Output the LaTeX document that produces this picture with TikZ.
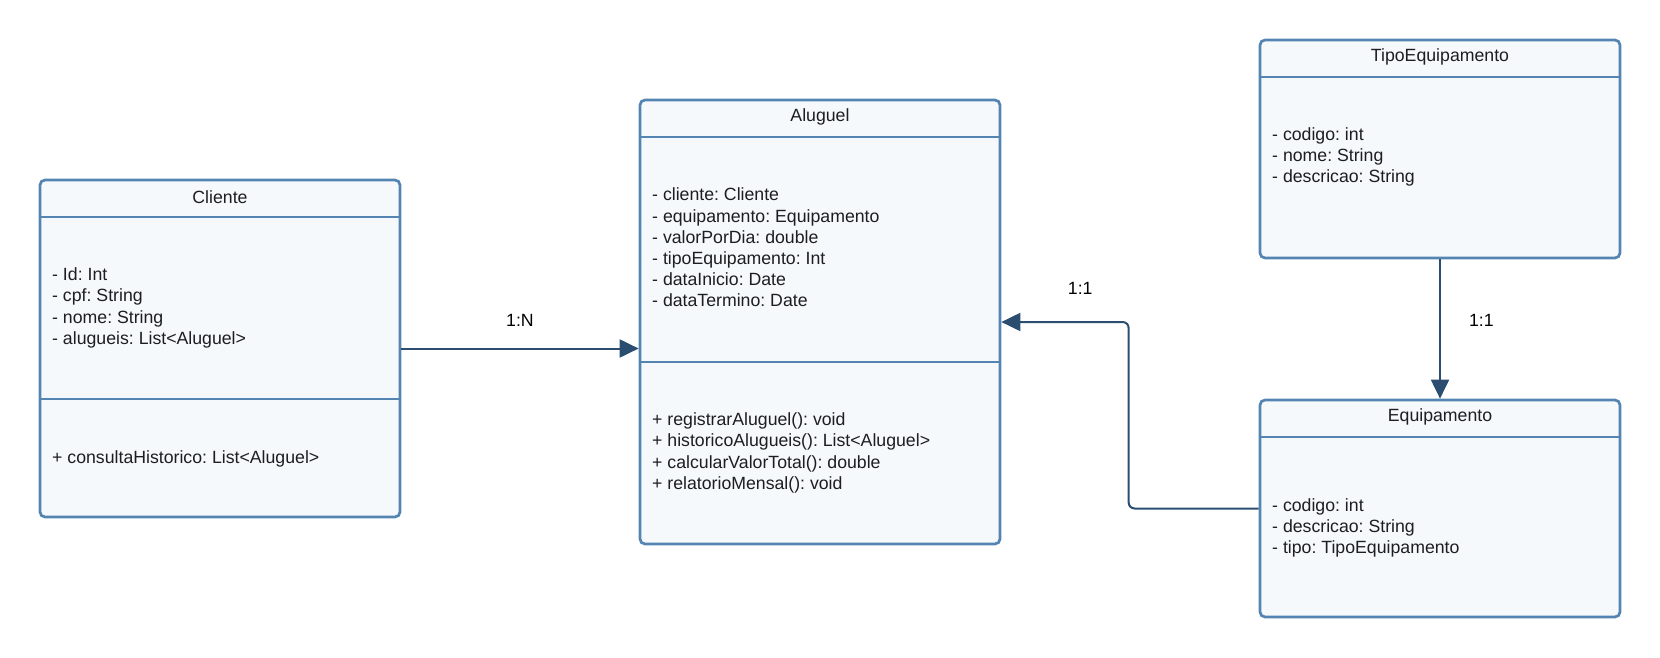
\documentclass[tikz,border=0pt]{standalone}
\usepackage{fontspec}
\setmainfont{Liberation Sans}
\usetikzlibrary{positioning,calc,arrows.meta}
\definecolor{umlline}{RGB}{84,132,178}
\definecolor{umlfill}{RGB}{245,249,252}
\definecolor{umlarrow}{RGB}{42,77,112}
\definecolor{umltext}{RGB}{30,30,30}
\newcommand*{\umltxt}{\fontsize{17.7}{21.2}\selectfont}
\frenchspacing

\begin{document}
\begin{tikzpicture}[x=1pt,y=-1pt,
  classbox/.style={draw=umlline,fill=umlfill,line width=2.7pt,
    rounded corners=5pt,minimum width=360pt,inner sep=0pt},
  classrule/.style={draw=umlline,line width=2.7pt},
  classtitle/.style={font=\umltxt,text=umltext,inner sep=0pt},
  members/.style={font=\umltxt,text=umltext,align=left,anchor=west,inner sep=0pt},
  assoc/.style={draw=umlarrow,line width=2pt,
    -{Triangle[length=19pt,width=18pt]}},
  cardinality/.style={font=\umltxt,text=black,inner sep=0pt}]
\useasboundingbox (0,0) rectangle (1660,658);
% The four classes
\node[classbox,minimum height=337pt] (cliente) at (220,348.5) {};
\node[classbox,minimum height=444pt] (aluguel) at (820,322) {};
\node[classbox,minimum height=218pt] (tipo) at (1440,149) {};
\node[classbox,minimum height=217pt] (equipamento) at (1440,508.5) {};
% Compartment lines
\draw[classrule] (cliente.west |- 0,217) -- (cliente.east |- 0,217);
\draw[classrule] (cliente.west |- 0,399) -- (cliente.east |- 0,399);
\draw[classrule] (aluguel.west |- 0,137) -- (aluguel.east |- 0,137);
\draw[classrule] (aluguel.west |- 0,362) -- (aluguel.east |- 0,362);
\draw[classrule] (tipo.west |- 0,77) -- (tipo.east |- 0,77);
\draw[classrule] (equipamento.west |- 0,437) -- (equipamento.east |- 0,437);
% Class names
\node[classtitle] (clienteT) at (cliente.north |- 0,197) {Cliente};
\node[classtitle] (aluguelT) at (aluguel.north |- 0,117) {Aluguel};
\node[classtitle] (tipoT) at (tipo.north |- 0,57) {TipoEquipamento};
\node[classtitle] (equipamentoT) at (equipamento.north |- 0,417) {Equipamento};
% Attributes and operations
\node[members] (clienteA) at (52,308) {- Id: Int\\- cpf: String\\- nome: String\\- alugueis: List<Aluguel>};
\node[members] (clienteM) at (52,459) {+ consultaHistorico: List<Aluguel>};
\node[members] (aluguelA) at (652,247.5) {- cliente: Cliente\\- equipamento: Equipamento\\- valorPorDia: double\\- tipoEquipamento: Int\\- dataInicio: Date\\- dataTermino: Date};
\node[members] (aluguelM) at (652,453) {+ registrarAluguel(): void\\+ historicoAlugueis(): List<Aluguel>\\+ calcularValorTotal(): double\\+ relatorioMensal(): void};
\node[members] (tipoA) at (1272,157) {- codigo: int\\- nome: String\\- descricao: String};
\node[members] (equipamentoA) at (1272,528) {- codigo: int\\- descricao: String\\- tipo: TipoEquipamento};
% Associations
\draw[assoc] (cliente.east) -- node[cardinality,above=21pt] (cardCA) {1:N} (cliente.east -| aluguel.west);
\draw[assoc,rounded corners=6pt] (equipamento.west) -- ++(-130,0)
  |- node[cardinality,pos=0.69,above=26.5pt] (cardEA) {1:1} (aluguel.east);
\draw[assoc] (tipo.south) -- node[cardinality,pos=0.44,right=28pt] (cardTE) {1:1} (equipamento.north);
\end{tikzpicture}
\end{document}
